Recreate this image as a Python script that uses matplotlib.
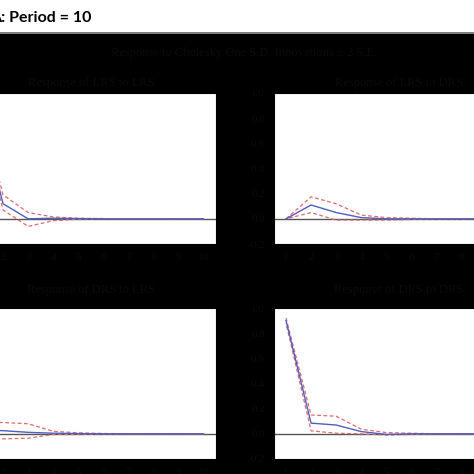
import matplotlib.pyplot as plt
from matplotlib.patches import Rectangle
from matplotlib.lines import Line2D

# Datos (periodos 1..10)
periodos = [1, 2, 3, 4, 5, 6, 7, 8, 9, 10]

lrs_lrs = [0.90, 0.12, 0.00, 0.005, 0.002, 0.0, 0.0, 0.0, 0.0, 0.0]
lrs_lrs_sup = [0.95, 0.19, 0.05, 0.015, 0.005, 0.002, 0.0, 0.0, 0.0, 0.0]
lrs_lrs_inf = [0.85, 0.07, -0.06, -0.015, -0.003, 0.0, 0.0, 0.0, 0.0, 0.0]

lrs_drs = [0.0, 0.11, 0.05, 0.01, 0.0, 0.0, 0.0, 0.0, 0.0, 0.0]
lrs_drs_sup = [0.0, 0.175, 0.12, 0.03, 0.01, 0.005, 0.0, 0.0, 0.0, 0.0]
lrs_drs_inf = [0.0, 0.05, -0.01, -0.01, -0.01, -0.005, 0.0, 0.0, 0.0, 0.0]

drs_lrs = [0.03, 0.025, 0.012, 0.005, 0.002, 0.0, 0.0, 0.0, 0.0, 0.0]
drs_lrs_sup = [0.095, 0.09, 0.08, 0.02, 0.008, 0.003, 0.0, 0.0, 0.0, 0.0]
drs_lrs_inf = [-0.04, -0.04, -0.035, -0.005, -0.005, -0.002, 0.0, 0.0, 0.0, 0.0]

drs_drs = [0.90, 0.085, 0.07, 0.018, -0.005, 0.0, 0.0, 0.0, 0.0, 0.0]
drs_drs_sup = [0.92, 0.15, 0.14, 0.037, 0.01, 0.005, 0.0, 0.0, 0.0, 0.0]
drs_drs_inf = [0.88, 0.024, 0.005, 0.0, -0.01, -0.005, 0.0, 0.0, 0.0, 0.0]

titulos = ['Response of LRS to LRS', 'Response of LRS to DRS',
           'Response of DRS to LRS', 'Response of DRS to DRS']
y_ticks = [-0.2, 0.0, 0.2, 0.4, 0.6, 0.8, 1.0]

paneles = [
    (lrs_lrs, lrs_lrs_sup, lrs_lrs_inf),
    (lrs_drs, lrs_drs_sup, lrs_drs_inf),
    (drs_lrs, drs_lrs_sup, drs_lrs_inf),
    (drs_drs, drs_drs_sup, drs_drs_inf),
]

W = 474.0
texto = '#0b0b0b'
fuente = 'Liberation Serif'

fig = plt.figure(figsize=(4.74, 4.74), dpi=100, facecolor='black')

# franja blanca superior con la etiqueta del panel
fig.patches.append(Rectangle((0, 1 - 32 / W), 1, 32 / W, transform=fig.transFigure,
                             facecolor='white', edgecolor='none', zorder=0))
fig.lines.append(Line2D([0, 1], [1 - 32.5 / W, 1 - 32.5 / W], transform=fig.transFigure,
                        color='#9a9a9a', linewidth=1.2))
fig.text(91 / W, 1 - 22 / W, 'A: Period = 10', ha='right', va='baseline',
         fontsize=11.5, fontweight='bold', family='Lato', color='black')

fig.text(244 / W, 1 - 53 / W, 'Response to Cholesky One S.D. Innovations \u00b1 2 S.E.',
         ha='center', va='center', fontsize=9, family=fuente, color=texto)

# posiciones de los ejes (pixeles de la imagen) y altura de cada subtitulo
posiciones = [(-34, 93), (274, 93), (-34, 308), (274, 308)]
y_titulos = [83, 83, 290, 290]
ancho, alto = 250, 151

for i, (pos, datos) in enumerate(zip(posiciones, paneles)):
    x0, y0 = pos
    ax = fig.add_axes([x0 / W, 1 - (y0 + alto) / W, ancho / W, alto / W])
    ax.set_facecolor('white')
    ax.set_xlim(0.52, 10.5)
    ax.set_ylim(-0.2, 1.0)
    central, sup, inf = datos
    ax.axhline(0, color='#555555', linewidth=1.0, zorder=1)
    ax.plot(periodos, central, color='#4f5fc0', linewidth=1.0, zorder=3)
    ax.plot(periodos, sup, color='#e06a6a', linewidth=0.9,
            linestyle=(0, (3, 2)), zorder=2)
    ax.plot(periodos, inf, color='#e06a6a', linewidth=0.9,
            linestyle=(2.5, (3, 2)), zorder=2)
    ax.set_xticks(periodos)
    ax.set_yticks(y_ticks)
    ax.set_yticklabels(['-0.2', '0.0', '0.2', '0.4', '0.6', '0.8', '1.0'])
    ax.tick_params(colors='black', labelcolor=texto, labelsize=8, length=3,
                   direction='out')
    for lab in ax.get_xticklabels() + ax.get_yticklabels():
        lab.set_family(fuente)
    for s in ax.spines.values():
        s.set_color('black')
    fig.text((x0 + ancho / 2) / W, 1 - y_titulos[i] / W, titulos[i],
             ha='center', va='center', fontsize=9, family=fuente, color=texto)

fig.savefig('out.png', dpi=100, facecolor='black')
